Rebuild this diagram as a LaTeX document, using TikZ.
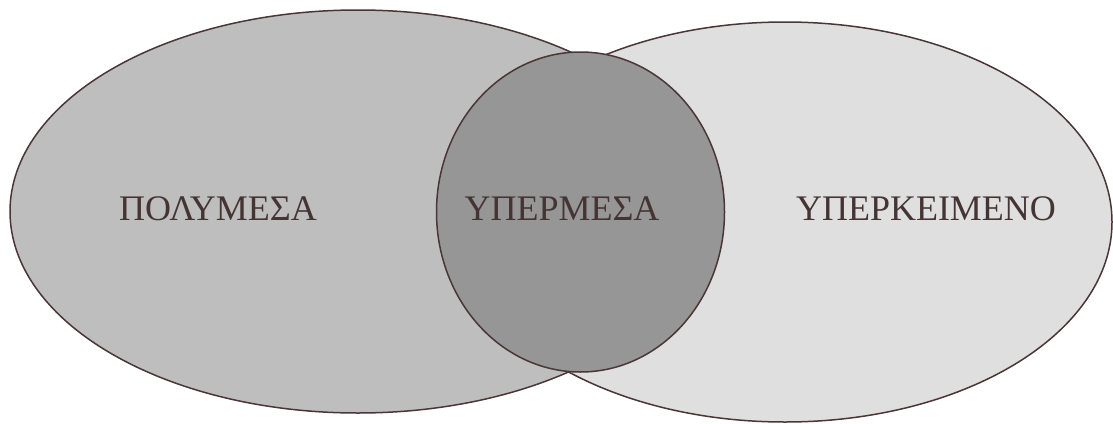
\documentclass[tikz,border=0pt]{standalone}
\usepackage{fontspec}
\setmainfont{Liberation Serif}
\usepackage{tikz}
\usetikzlibrary{shapes.geometric}
\usepackage{xcolor}
\definecolor{VennEdge}{HTML}{4A3636}
\definecolor{VennText}{HTML}{453434}
\definecolor{VennLeft}{HTML}{BEBEBE}
\definecolor{VennRight}{HTML}{DFDFDF}
\definecolor{VennMid}{HTML}{969696}

\begin{document}
\begin{tikzpicture}[
    x=1pt,y=-1pt,
    set/.style={ellipse,draw=VennEdge,line width=1.5pt,inner sep=0pt,outer sep=0pt},
    lbl/.style={text=VennText,font=\fontsize{36}{42}\selectfont,inner sep=0pt}
  ]
    \useasboundingbox (0,0) rectangle (1113,423);
    \node[set,fill=VennLeft,minimum width=696pt,minimum height=403pt] (multi) at (358,211.5) {};
    \node[set,fill=VennRight,minimum width=654pt,minimum height=400pt] (text) at (785,222) {};
    \node[set,fill=VennMid,minimum width=288pt,minimum height=320pt] (hyper) at (580.5,212) {};
    \node[lbl] (multilbl) at (218,209) {ΠΟΛΥΜΕΣΑ};
    \node[lbl] (hyperlbl) at (562,209) {ΥΠΕΡΜΕΣΑ};
    \node[lbl] (textlbl) at (926,209) {ΥΠΕΡΚΕΙΜΕΝΟ};
  \end{tikzpicture}
\end{document}
